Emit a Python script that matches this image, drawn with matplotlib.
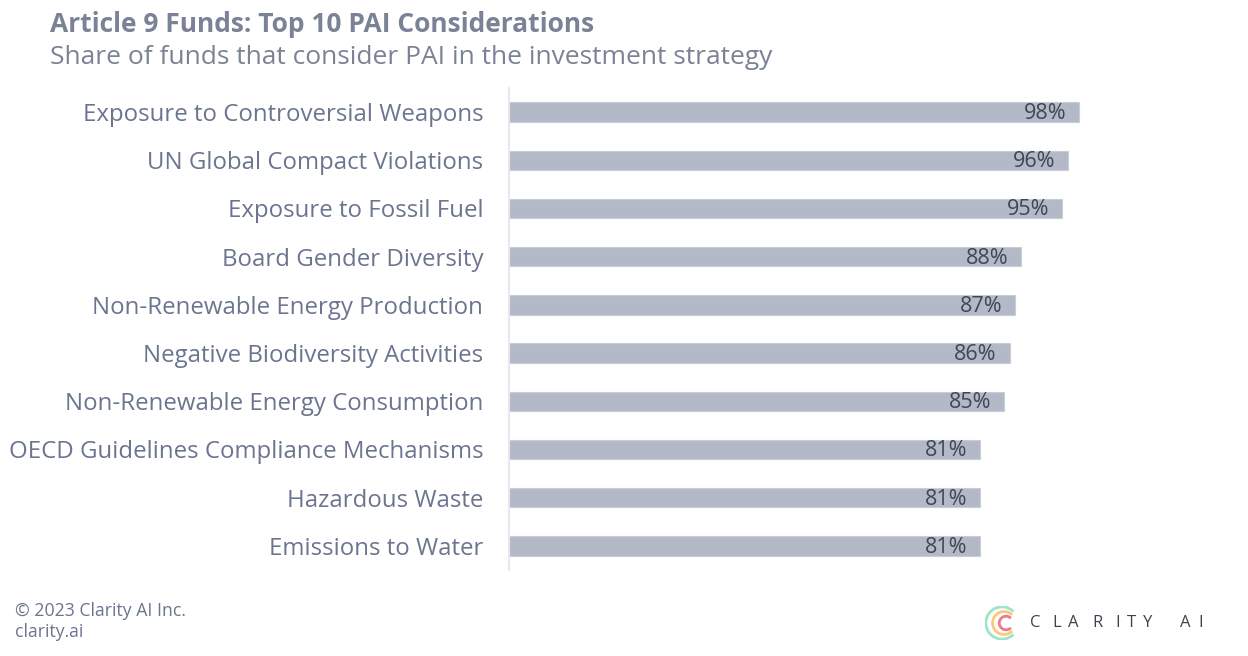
import matplotlib
matplotlib.use('Agg')
import matplotlib.pyplot as plt
from matplotlib.patches import Arc

# data
categories = ['Exposure to Controversial Weapons', 'UN Global Compact Violations',
              'Exposure to Fossil Fuel', 'Board Gender Diversity',
              'Non-Renewable Energy Production', 'Negative Biodiversity Activities',
              'Non-Renewable Energy Consumption', 'OECD Guidelines Compliance Mechanisms',
              'Hazardous Waste', 'Emissions to Water']
shares = [98, 96, 95, 88, 87, 86, 85, 81, 81, 81]

plt.rcParams['font.family'] = ['Open Sans', 'DejaVu Sans']

bar_col = '#b3b9c6'
label_col = '#6b7590'
title_col = '#7a8296'
val_col = '#3f4655'

fig = plt.figure(figsize=(12.48, 6.56), dpi=100)
ax = fig.add_axes([509/1248, 1-570/656, 582/1248, 482/656])

ypos = list(range(len(categories)))
ax.barh(ypos, shares, height=0.4, color=bar_col, edgecolor='#c8cdd7', linewidth=0.8)
ax.set_xlim(0, 100)
ax.set_ylim(len(categories)-0.5, -0.5)
ax.set_yticks(ypos)
ax.set_yticklabels(categories, fontsize=17.3, color=label_col)
ax.tick_params(axis='y', length=0, pad=18.5)
ax.set_xticks([])
for s in ['top', 'right', 'bottom']:
    ax.spines[s].set_visible(False)
ax.spines['left'].set_color('#e6e8ee')
ax.spines['left'].set_linewidth(1.5)

for y, v in zip(ypos, shares):
    ax.text(v - 2.2, y + 0.03, f'{v}%', ha='right', va='center', fontsize=15.5, color=val_col)

fig.text(50/1248, 1-25/656, 'Article 9 Funds: Top 10 PAI Considerations', fontsize=19,
         fontweight='bold', color=title_col, va='center')
fig.text(50/1248, 1-58/656, 'Share of funds that consider PAI in the investment strategy',
         fontsize=19, color=title_col, va='center')

fig.text(15/1248, 1-611/656, '\u00a9 2023 Clarity AI Inc.', fontsize=12.7, color=label_col, va='center')
fig.text(15/1248, 1-632/656, 'clarity.ai', fontsize=12.7, color=label_col, va='center')

# logo
lax = fig.add_axes([985/1248, 1-640/656, 34/1248, 34/656])
lax.set_xlim(-1, 1)
lax.set_ylim(-1, 1)
lax.set_aspect('equal')
lax.axis('off')
lax.add_patch(Arc((0, 0), 1.9, 1.9, theta1=45, theta2=315, color='#9fe3c8', lw=2))
lax.add_patch(Arc((0.12, 0), 1.35, 1.35, theta1=45, theta2=315, color='#f7c97a', lw=2))
lax.add_patch(Arc((0.24, 0), 0.8, 0.8, theta1=45, theta2=315, color='#f07a84', lw=2))
logo_letters = ['C', 'L', 'A', 'R', 'I', 'T', 'Y', 'A', 'I']
logo_x = [1030, 1052, 1068, 1092, 1115, 1127, 1143, 1180, 1198]
for ch, lx in zip(logo_letters, logo_x):
    fig.text(lx/1248, 1-623/656, ch, fontsize=12, color='#3d4350', va='center')

fig.savefig('out.png', dpi=100, facecolor='white')
